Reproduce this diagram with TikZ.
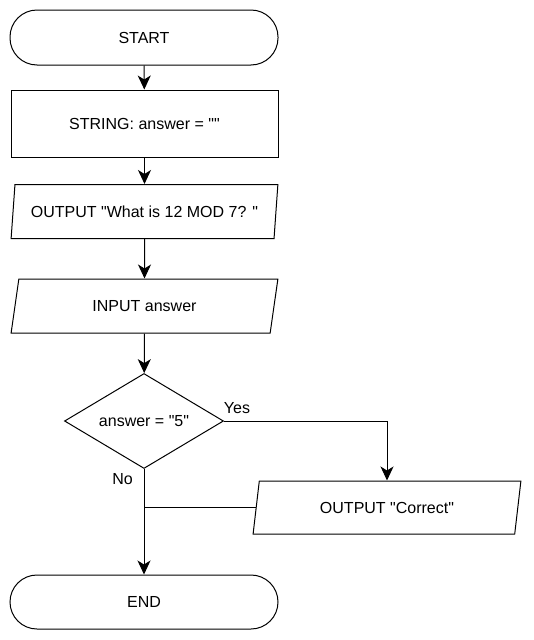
\documentclass[tikz,border=0pt]{standalone}
\usepackage{fontspec}
\newfontfamily\lsans{Liberation Sans}
\usetikzlibrary{shapes.geometric,arrows.meta}
\begin{document}
\begin{tikzpicture}[x=1pt,y=-1pt,
  every node/.style={font=\lsans\fontsize{16}{19}\selectfont},
  base/.style={draw,line width=1pt,inner sep=0pt,align=center},
  terminal/.style={base,rectangle,rounded corners=27pt,minimum width=268pt,minimum height=55pt},
  process/.style={base,rectangle,minimum width=267pt,minimum height=67pt},
  io/.style={base,trapezium,trapezium left angle=74,trapezium right angle=106,trapezium stretches=true,minimum width=267pt,minimum height=54pt},
  decision/.style={base,diamond,aspect=1.7,minimum width=159pt,minimum height=95pt},
  flow/.style={line width=1pt,-{Stealth[length=14pt,width=13pt,inset=4pt]}},
  plain/.style={line width=1pt},
  lbl/.style={inner sep=0pt}]
\useasboundingbox (0,0) rectangle (533,640);
\node[terminal] (start) at (144,37.5) {START};
\node[process] (str) at (144.5,123.5) {STRING: answer = ""};
\node[io] (out1) at (144.5,211.5) {OUTPUT "What is 12 MOD 7? "};
\node[io] (inp) at (144.5,306) {INPUT answer};
\node[decision] (dec) at (144,421) {answer = "5"};
\node[io,minimum width=268pt,minimum height=53pt] (corr) at (387,507.5) {OUTPUT "Correct"};
\node[terminal,minimum height=54pt] (end) at (144,602) {END};
\node[lbl] (yes) at (237,408) {Yes};
\node[lbl] (no) at (122.5,479) {No};
\draw[flow] (start) -- (str);
\draw[flow] (str) -- (out1);
\draw[flow] (out1) -- (inp);
\draw[flow] (inp) -- (dec);
\draw[flow] (dec.east) -| (corr.north);
\draw[flow] (dec.south) -- (end.north);
\draw[plain] (corr.left side) -- (corr.left side -| dec.south);
\end{tikzpicture}
\end{document}
